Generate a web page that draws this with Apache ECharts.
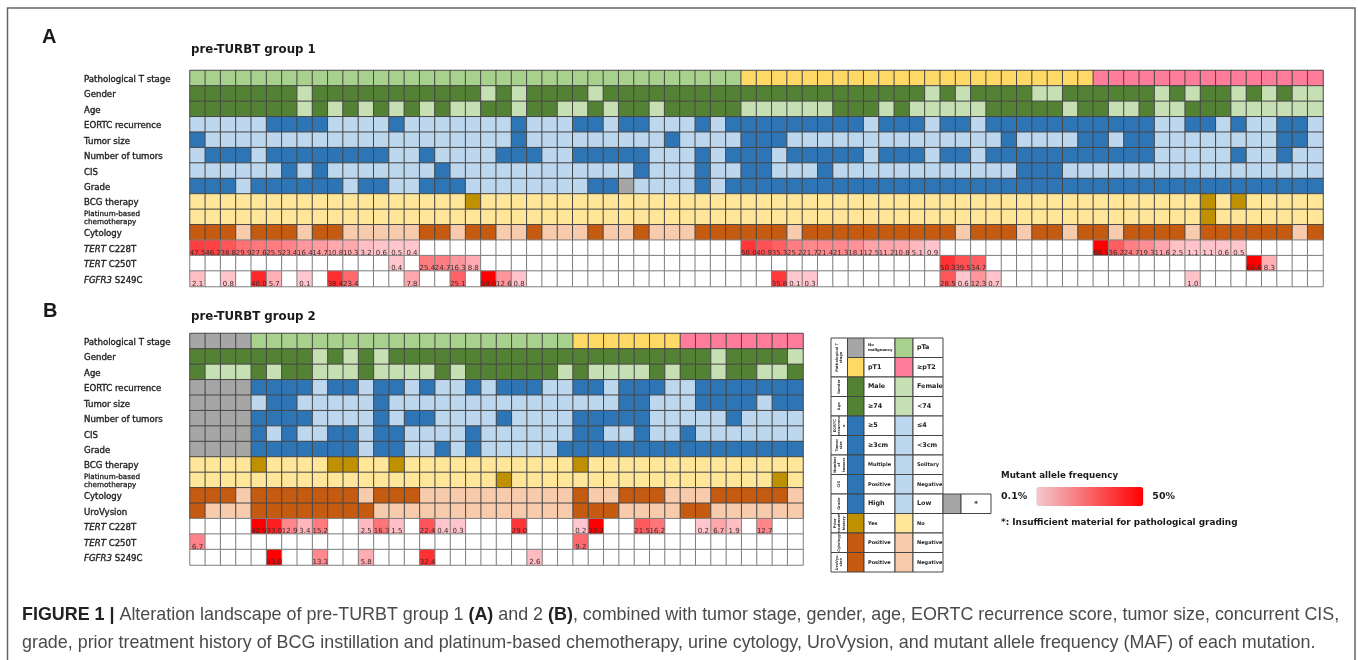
<!DOCTYPE html>
<html>
<head>
<meta charset="utf-8">
<style>html,body{margin:0;padding:0;background:#fff}#chart{width:1358px;height:660px}</style>
<script src="https://cdn.jsdelivr.net/npm/echarts@6/dist/echarts.min.js"></script>
</head>
<body>
<div id="chart"></div>
<script>
const _ = null;

// group 1, 74 patients. 1 = dark cell, 0 = light cell, 2 = grey
const tStage1 = [0,0,0,0,0,0,0,0,0,0, 0,0,0,0,0,0,0,0,0,0, 0,0,0,0,0,0,0,0,0,0, 0,0,0,0,0,0,1,1,1,1, 1,1,1,1,1,1,1,1,1,1, 1,1,1,1,1,1,1,1,1,2, 2,2,2,2,2,2,2,2,2,2, 2,2,2,2];
const gender1 = [1,1,1,1,1,1,1,0,1,1, 1,1,1,1,1,1,1,1,1,0, 1,0,1,1,1,1,0,1,1,1, 1,1,1,1,1,1,1,1,1,1, 1,1,1,1,1,1,1,1,0,1, 0,1,1,1,1,0,0,1,1,1, 1,1,1,0,1,0,1,1,0,1, 0,1,0,0];
const age1 = [1,1,1,1,1,1,1,0,1,0, 1,0,1,0,1,0,1,0,0,1, 1,0,1,1,0,0,1,0,1,1, 0,1,1,1,1,1,0,0,0,0, 0,0,1,1,1,0,1,0,0,0, 0,0,1,1,1,1,1,0,1,1, 0,0,1,0,0,1,1,1,0,0, 0,0,0,0];
const eortc1 = [0,0,0,0,0,1,1,1,1,0, 0,0,0,1,0,0,0,0,0,0, 0,1,0,0,0,1,1,0,1,1, 0,0,0,1,0,1,1,1,1,1, 1,1,1,1,0,1,1,1,0,1, 1,0,1,1,1,1,1,1,1,1, 1,1,1,0,0,1,1,0,1,0, 0,1,1,0];
const tumorSize1 = [1,0,0,0,0,0,0,0,0,0, 0,0,0,0,0,0,0,0,0,0, 0,1,0,0,0,0,0,0,0,0, 0,1,0,0,0,0,1,1,1,0, 0,0,0,0,0,0,0,0,0,0, 0,0,0,1,0,0,0,0,1,1, 0,1,1,0,0,0,0,0,0,0, 0,1,1,0];
const tumorNum1 = [0,1,1,1,0,1,1,1,1,1, 1,1,1,0,0,1,0,0,0,0, 1,1,1,0,0,1,1,1,1,1, 0,0,0,1,0,1,1,1,0,1, 1,1,1,1,0,1,1,1,0,1, 1,0,1,1,1,1,1,1,1,1, 1,1,1,0,0,0,0,0,1,0, 0,1,0,0];
const cis1 = [0,0,0,0,0,0,1,0,1,0, 0,0,0,0,0,0,1,0,0,0, 0,0,0,0,0,0,0,0,0,1, 0,0,0,1,0,0,1,1,0,0, 0,1,0,0,0,0,0,0,0,0, 0,0,0,0,1,1,1,0,0,0, 0,0,0,0,0,0,0,0,0,0, 0,0,0,0];
const grade1 = [1,1,1,0,1,1,1,1,1,1, 0,1,1,0,0,1,1,1,0,0, 0,0,0,0,0,0,1,1,2,0, 0,0,0,1,0,1,1,1,1,1, 1,1,1,1,1,1,1,1,1,1, 1,1,1,1,1,1,1,1,1,1, 1,1,1,1,1,1,1,1,1,1, 1,1,1,1];
const bcg1 = [0,0,0,0,0,0,0,0,0,0, 0,0,0,0,0,0,0,0,1,0, 0,0,0,0,0,0,0,0,0,0, 0,0,0,0,0,0,0,0,0,0, 0,0,0,0,0,0,0,0,0,0, 0,0,0,0,0,0,0,0,0,0, 0,0,0,0,0,0,1,0,1,0, 0,0,0,0];
const platinum1 = [0,0,0,0,0,0,0,0,0,0, 0,0,0,0,0,0,0,0,0,0, 0,0,0,0,0,0,0,0,0,0, 0,0,0,0,0,0,0,0,0,0, 0,0,0,0,0,0,0,0,0,0, 0,0,0,0,0,0,0,0,0,0, 0,0,0,0,0,0,1,0,0,0, 0,0,0,0];
const cytology1 = [1,1,1,0,1,1,1,0,1,1, 0,0,0,0,0,1,1,0,1,1, 0,0,1,0,0,0,1,0,0,1, 0,0,0,1,1,1,1,1,1,0, 1,1,1,1,1,1,1,1,1,1, 0,1,1,1,0,1,1,0,1,1, 0,1,1,1,1,0,1,1,1,1, 1,1,0,1];
const tert228_1 = [47.5,46.2,38.8,29.9,27.6,25.5,23.4,16.4,14.7,10.8, 10.3,3.2,0.6,0.5,0.4,_,_,_,_,_, _,_,_,_,_,_,_,_,_,_, _,_,_,_,_,_,50.0,40.9,35.3,25.2, 21.7,21.4,21.3,18.1,12.5,11.2,10.8,5.1,0.9,_, _,_,_,_,_,_,_,_,_,68.5, 36.2,24.7,19.3,11.6,2.5,1.1,1.1,0.6,0.5,_, _,_,_,_];
const tert250_1 = [_,_,_,_,_,_,_,_,_,_, _,_,_,0.4,_,25.4,24.7,16.3,8.8,_, _,_,_,_,_,_,_,_,_,_, _,_,_,_,_,_,_,_,_,_, _,_,_,_,_,_,_,_,_,50.3, 39.5,34.7,_,_,_,_,_,_,_,_, _,_,_,_,_,_,_,_,_,66.6, 8.3,_,_,_];
const fgfr3_1 = [2.1,_,0.8,_,40.0,5.7,_,0.1,_,38.4, 23.4,_,_,_,7.8,_,_,25.1,_,50.0, 12.6,0.8,_,_,_,_,_,_,_,_, _,_,_,_,_,_,_,_,35.8,0.1, 0.3,_,_,_,_,_,_,_,_,28.5, 0.6,12.3,0.7,_,_,_,_,_,_,_, _,_,_,_,_,1.0,_,_,_,_, _,_,_,_];

// group 2, 40 patients
const tStage2 = [3,3,3,3,0,0,0,0,0,0, 0,0,0,0,0,0,0,0,0,0, 0,0,0,0,0,1,1,1,1,1, 1,1,2,2,2,2,2,2,2,2];
const gender2 = [1,1,1,1,1,1,1,1,0,1, 0,1,0,1,1,1,1,1,1,1, 1,1,1,1,1,1,1,1,1,1, 1,1,1,1,0,1,1,1,1,0];
const age2 = [1,0,0,0,1,0,1,1,0,0, 0,1,0,0,0,0,1,0,1,1, 1,1,1,1,0,1,0,0,0,0, 1,0,1,1,0,1,1,0,0,1];
const eortc2 = [2,2,2,2,1,1,1,1,0,1, 1,0,1,1,0,1,0,0,1,0, 1,1,1,0,0,1,1,0,1,1, 1,0,0,1,1,1,1,1,1,1];
const tumorSize2 = [2,2,2,2,0,1,1,0,0,0, 0,0,1,0,0,0,0,0,0,0, 0,0,0,0,0,0,0,0,1,1, 0,0,0,1,1,1,1,0,1,1];
const tumorNum2 = [2,2,2,2,1,1,1,1,0,0, 0,0,1,0,1,1,0,0,0,0, 1,0,0,0,0,1,1,1,1,1, 0,0,0,0,0,1,0,0,0,0];
const cis2 = [2,2,2,2,1,0,1,0,0,1, 1,0,1,1,0,0,0,0,1,0, 0,0,0,0,0,1,1,0,0,1, 0,0,1,0,0,0,0,0,0,0];
const grade2 = [2,2,2,2,1,1,1,1,1,1, 1,0,1,1,0,0,1,0,1,0, 0,0,0,0,1,1,1,1,1,1, 1,1,1,1,1,1,1,1,1,1];
const bcg2 = [0,0,0,0,1,0,0,0,0,1, 1,0,0,1,0,0,0,0,0,0, 0,0,0,0,0,1,0,0,0,0, 0,0,0,0,0,0,0,0,0,0];
const platinum2 = [0,0,0,0,0,0,0,0,0,0, 0,0,0,0,0,0,0,0,0,0, 1,0,0,0,0,0,0,0,0,0, 0,0,0,0,0,0,0,0,1,0];
const cytology2 = [1,1,1,0,1,1,1,1,1,1, 1,0,1,1,1,0,0,0,0,0, 0,0,0,0,0,1,0,0,1,1, 1,0,0,0,1,1,1,1,1,0];
const uroVysion2 = [1,0,0,0,1,1,1,1,1,1, 1,1,0,0,0,0,0,0,0,0, 0,0,0,0,0,1,1,1,0,0, 0,0,1,1,0,0,0,0,0,0];
const tert228_2 = [_,_,_,_,42.9,33.0,12.9,3.4,15.2,_, _,2.5,16.3,1.5,_,22.4,0.4,0.3,_,_, _,29.0,_,_,_,0.2,39.2,_,_,21.5, 16.2,_,_,0.2,6.7,1.9,_,12.7,_,_];
const tert250_2 = [6.7,_,_,_,_,_,_,_,_,_, _,_,_,_,_,_,_,_,_,_, _,_,_,_,_,9.2,_,_,_,_, _,_,_,_,_,_,_,_,_,_];
const fgfr3_2 = [_,_,_,_,_,43.0,_,_,13.3,_, _,5.8,_,_,_,32.4,_,_,_,_, _,_,2.6,_,_,_,_,_,_,_, _,_,_,_,_,_,_,_,_,_];

const rowNames1 = ['Pathological T stage','Gender','Age','EORTC recurrence','Tumor size','Number of tumors','CIS','Grade','BCG therapy','Platinum-based chemotherapy','Cytology','TERT C228T','TERT C250T','FGFR3 S249C'];
const rowNames2 = ['Pathological T stage','Gender','Age','EORTC recurrence','Tumor size','Number of tumors','CIS','Grade','BCG therapy','Platinum-based chemotherapy','Cytology','UroVysion','TERT C228T','TERT C250T','FGFR3 S249C'];

const legendKeys = ['Pathological T\nstage','Gender','Age','EORTC\nrecurrenc\ne','Tumor\nsize','Number\nof\ntumors','CIS','Grade','Prior\ntreatment\nhistory','Cytology','UroVys-\nsion'];
const legendLeft = ['No\nmalignancy','pT1','Male','≥74','≥5','≥3cm','Multiple','Positive','High','Yes','Positive','Positive'];
const legendRight = ['pTa','≥pT2','Female','<74','≤4','<3cm','Solitary','Negative','Low','No','Negative','Negative'];

const GREEN = ['#C6E0B4','#548235'], BLUE = ['#BDD7EE','#2E75B6'], YELLOW = ['#FFE699','#BF9000'], ORANGE = ['#F8CBAD','#C55A11'];
const GREY = '#A6A6A6';
const T_COLORS = ['#A9D18E','#FFD966','#FF7C9A',GREY];

// colour sets per row, same order as the arrays below
const catColors = [T_COLORS,GREEN,GREEN,BLUE,BLUE,BLUE,BLUE,BLUE,YELLOW,YELLOW,ORANGE,ORANGE];
const DARK_LINE = '#474747', GREY_LINE = '#7f7f7f';

function lerpRed(v, max) {
  const t = Math.min(1, v / max);
  const g = Math.round(199 * (1 - t)), b = Math.round(206 * (1 - t));
  return 'rgb(255,' + g + ',' + b + ')';
}

function buildPanel(catRows, mutRows, mutMax) {
  const out = [];
  catRows.forEach((vals, r) => {
    vals.forEach((v, c) => {
      const set = catColors[r];
      out.push({ value: [c, r, v], itemStyle: { color: v === 2 && set !== T_COLORS ? GREY : set[v], borderColor: DARK_LINE, borderWidth: 1 }, label: { show: false } });
    });
  });
  mutRows.forEach((vals, i) => {
    const r = catRows.length + i;
    vals.forEach((v, c) => {
      out.push({
        value: [c, r, v == null ? 0 : v],
        itemStyle: { color: v == null ? '#fff' : lerpRed(v, mutMax[i]), borderColor: GREY_LINE, borderWidth: 1 },
        label: { show: v != null, formatter: v == null ? '' : v.toFixed(1) }
      });
    });
  });
  return out;
}

const data1 = buildPanel(
  [tStage1,gender1,age1,eortc1,tumorSize1,tumorNum1,cis1,grade1,bcg1,platinum1,cytology1],
  [tert228_1,tert250_1,fgfr3_1], [68.5,66.6,50]);
const data2 = buildPanel(
  [tStage2,gender2,age2,eortc2,tumorSize2,tumorNum2,cis2,grade2,bcg2,platinum2,cytology2,uroVysion2],
  [tert228_2,tert250_2,fgfr3_2], [39.2,20,43]);

function rowLabel(name) {
  if (name.startsWith('Platinum')) return '{s|Platinum-based}\n{s|chemotherapy}';
  const m = name.match(/^(TERT|FGFR3) (.*)$/);
  if (m) return '{i|' + m[1] + '}{b| ' + m[2] + '}';
  return '{b|' + name + '}';
}
const LABEL_FONT = 'DejaVu Sans';
const labelRich = {
  b: { fontFamily: LABEL_FONT, fontSize: 8.6, color: '#222', textBorderColor: '#222', textBorderWidth: 0.35 },
  i: { fontFamily: LABEL_FONT, fontStyle: 'italic', fontSize: 8.6, color: '#222', textBorderColor: '#222', textBorderWidth: 0.35 },
  s: { fontFamily: LABEL_FONT, fontSize: 7.2, color: '#222', lineHeight: 8, textBorderColor: '#222', textBorderWidth: 0.3 }
};

function panelAxes(colCount, names) {
  return {
    x: { type: 'category', data: Array.from({ length: colCount }, (_v, i) => i), axisLine: { show: false }, axisTick: { show: false }, axisLabel: { show: false }, splitLine: { show: false } },
    y: {
      type: 'category', inverse: true, data: names,
      axisLine: { show: false }, axisTick: { show: false }, splitLine: { show: false },
      axisLabel: { interval: 0, margin: 106, align: 'left', padding: [3, 0, 0, 0], formatter: rowLabel, rich: labelRich }
    }
  };
}
const ax1 = panelAxes(tStage1.length, rowNames1), ax2 = panelAxes(tStage2.length, rowNames2);

function heatSeries(idx, data) {
  return {
    type: 'heatmap', xAxisIndex: idx, yAxisIndex: idx, data, silent: true, progressive: 0, animation: false,
    label: { position: 'insideBottom', distance: 0, fontFamily: LABEL_FONT, fontSize: 7, color: '#3a2a2a' },
    emphasis: { disabled: true }
  };
}

// key table on the right
const KEY_X = [831, 847.5, 864, 895, 913, 943, 961, 991];
const KEY_TOP = 338, KEY_ROW = 19.5;
const KEY_SPANS = [2,1,1,1,1,1,1,1,1,1,1];
const KEY_LEFT_COLORS = [GREY,T_COLORS[1],GREEN[1],GREEN[1],BLUE[1],BLUE[1],BLUE[1],BLUE[1],BLUE[1],YELLOW[1],ORANGE[1],ORANGE[1]];
const KEY_RIGHT_COLORS = [T_COLORS[0],T_COLORS[2],GREEN[0],GREEN[0],BLUE[0],BLUE[0],BLUE[0],BLUE[0],BLUE[0],YELLOW[0],ORANGE[0],ORANGE[0]];
const BIG_KEY = new Set(['pTa','pT1','≥pT2','Male','Female','≥74','<74','≥5','≤4','≥3cm','<3cm','High','Low']);

function keyRect(x0, x1, y0, h, fill) {
  return { type: 'rect', silent: true, shape: { x: x0, y: y0, width: x1 - x0, height: h }, style: { fill: fill || '#fff', stroke: '#444', lineWidth: 1 } };
}
function keyText(x, y, text) {
  const big = BIG_KEY.has(text), tiny = text.indexOf('\n') >= 0;
  return { type: 'text', silent: true, x, y, style: { text, fontFamily: LABEL_FONT, fontWeight: 'bold', fontSize: tiny ? 3.8 : (big ? 6.4 : 5), lineHeight: tiny ? 5 : undefined, fill: '#222', align: 'left', verticalAlign: 'middle' } };
}
function buildKey() {
  const els = [];
  let keyRow = 0;
  KEY_SPANS.forEach((span, k) => {
    const top = KEY_TOP + keyRow * KEY_ROW;
    els.push(keyRect(KEY_X[0], KEY_X[1], top, span * KEY_ROW));
    els.push({ type: 'text', silent: true, x: (KEY_X[0] + KEY_X[1]) / 2, y: top + span * KEY_ROW / 2, rotation: Math.PI / 2,
      style: { text: legendKeys[k], fontFamily: LABEL_FONT, fontWeight: 'bold', fontSize: 3.6, lineHeight: 4.5, fill: '#333', align: 'center', verticalAlign: 'middle' } });
    keyRow += span;
  });
  legendLeft.forEach((txt, r) => {
    const top = KEY_TOP + r * KEY_ROW;
    els.push(keyRect(KEY_X[1], KEY_X[2], top, KEY_ROW, KEY_LEFT_COLORS[r]));
    els.push(keyRect(KEY_X[2], KEY_X[3], top, KEY_ROW));
    els.push(keyRect(KEY_X[3], KEY_X[4], top, KEY_ROW, KEY_RIGHT_COLORS[r]));
    els.push(keyRect(KEY_X[4], KEY_X[5], top, KEY_ROW));
    els.push(keyText(KEY_X[2] + 4, top + KEY_ROW / 2, txt));
    els.push(keyText(KEY_X[4] + 4, top + KEY_ROW / 2, legendRight[r]));
  });
  const gradeTop = KEY_TOP + 8 * KEY_ROW;
  els.push(keyRect(KEY_X[5], KEY_X[6], gradeTop, KEY_ROW, GREY));
  els.push(keyRect(KEY_X[6], KEY_X[7], gradeTop, KEY_ROW));
  els.push({ type: 'text', silent: true, x: (KEY_X[6] + KEY_X[7]) / 2, y: gradeTop + KEY_ROW / 2, style: { text: '*', fontFamily: LABEL_FONT, fontWeight: 'bold', fontSize: 7, fill: '#222', align: 'center', verticalAlign: 'middle' } });
  return els;
}

function plainText(x, y, text, size, family) {
  return { type: 'text', silent: true, x, y, style: { text, fontFamily: family || LABEL_FONT, fontWeight: 'bold', fontSize: size, fill: '#1a1a1a', align: 'left', verticalAlign: 'middle' } };
}
const CAPTION_SIZE = 17.9;
function captionLine(y, text) {
  return { type: 'text', silent: true, x: 22, y, style: { text, fontFamily: 'Liberation Sans', fontSize: CAPTION_SIZE, fill: '#3a3a3a', align: 'left', verticalAlign: 'middle',
    rich: {
      k: { fontFamily: 'Liberation Sans', fontWeight: 'bold', fontSize: CAPTION_SIZE, fill: '#222' },
      n: { fontFamily: 'Liberation Sans', fontSize: CAPTION_SIZE, fill: '#4a4a4a' }
    } } };
}

const chart = echarts.init(document.getElementById('chart'), null, { renderer: 'canvas' });
chart.setOption({
  animation: false,
  backgroundColor: '#fff',
  grid: [
    { left: 190, top: 70.5, width: 1133, height: 216 },
    { left: 190, top: 333.5, width: 613, height: 231.5 }
  ],
  xAxis: [Object.assign({ gridIndex: 0 }, ax1.x), Object.assign({ gridIndex: 1 }, ax2.x)],
  yAxis: [Object.assign({ gridIndex: 0 }, ax1.y), Object.assign({ gridIndex: 1 }, ax2.y)],
  visualMap: {
    type: 'continuous', seriesIndex: [], show: true, calculable: false, hoverLink: false, realtime: false,
    min: 0.1, max: 50, orient: 'horizontal', left: 1001, top: 487, padding: 0, itemWidth: 19, itemHeight: 107, textGap: 9,
    text: ['50%', '0.1%'], textStyle: { fontFamily: LABEL_FONT, fontWeight: 'bold', fontSize: 9.5, color: '#1a1a1a' },
    inRange: { color: ['#F2C9CF', '#FF0000'] }
  },
  series: [heatSeries(0, data1), heatSeries(1, data2)],
  graphic: { elements: [
    { type: 'polyline', silent: true, shape: { points: [[7.5, 660], [7.5, 8], [1355, 8], [1355, 660]] }, style: { fill: 'none', stroke: '#666', lineWidth: 1.5 } },
    plainText(42, 37, 'A', 20, 'Liberation Sans'),
    plainText(43, 311, 'B', 20, 'Liberation Sans'),
    plainText(191, 49.5, 'pre-TURBT group 1', 11.8),
    plainText(191, 316.5, 'pre-TURBT group 2', 11.8),
    plainText(1001, 476, 'Mutant allele frequency', 8.7),
    plainText(1001, 523, '*: Insufficient material for pathological grading', 8.9),
    captionLine(615.5, '{k|FIGURE 1 | }{n|Alteration landscape of pre-TURBT group 1 }{k|(A)}{n| and 2 }{k|(B)}{n|, combined with tumor stage, gender, age, EORTC recurrence score, tumor size, concurrent CIS,}'),
    captionLine(643, '{n|grade, prior treatment history of BCG instillation and platinum-based chemotherapy, urine cytology, UroVysion, and mutant allele frequency (MAF) of each mutation.}')
  ].concat(buildKey()) }
});
</script>
</body>
</html>
